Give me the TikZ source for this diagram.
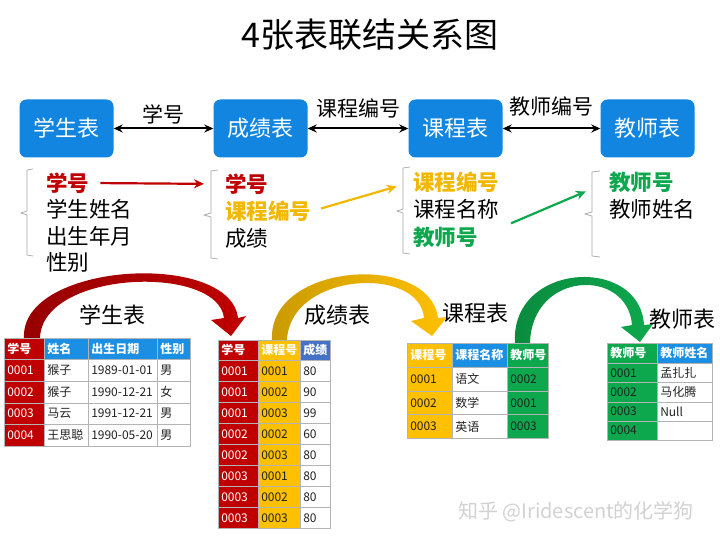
\documentclass[tikz,border=0pt]{standalone}
\usepackage{fontspec}
\setmainfont{Noto Sans CJK SC}
\usepackage{xcolor}
\usepackage{tikz}
\usetikzlibrary{arrows.meta,positioning}

\definecolor{boxBlue}{HTML}{1185E0}
\definecolor{keyRed}{HTML}{C00000}
\definecolor{darkRed}{HTML}{960000}
\definecolor{keyYellow}{HTML}{FFC000}
\definecolor{darkYellow}{HTML}{C99A00}
\definecolor{textYellow}{HTML}{F2B800}
\definecolor{keyGreen}{HTML}{0DA84E}
\definecolor{darkGreen}{HTML}{0A8A3E}
\definecolor{headBlue}{HTML}{1A8FE3}
\definecolor{headBlueDark}{HTML}{4472C4}
\definecolor{gridGray}{HTML}{B4B4B4}
\definecolor{cellText}{HTML}{222222}

\begin{document}
\begin{tikzpicture}[x=1pt, y=-1pt,
  topBox/.style={rectangle, rounded corners=7pt, fill=boxBlue, text=white,
                 minimum width=94pt, minimum height=58pt,
                 font=\fontsize{22}{24}\selectfont},
  linkLabel/.style={font=\fontsize{21}{24}\selectfont, inner sep=1pt},
  listItem/.style={anchor=west, inner sep=1pt, font=\fontsize{21.5}{24}\selectfont},
  keyItem/.style={listItem, font=\fontsize{21.5}{24}\selectfont\bfseries},
  brace/.style={draw=gray!70, line width=0.7pt},
  fieldLink/.style={-{Stealth[length=10pt, width=9pt]}, line width=2.2pt},
  cell/.style n args={3}{draw=gridGray, line width=0.5pt, fill=#1,
                 text width=#2, minimum height=#3, inner xsep=3pt,
                 inner ysep=0pt, align=left, anchor=north west,
                 text=cellText, font=\fontsize{12}{14}\selectfont},
  headCell/.style={font=\fontsize{12}{14}\selectfont\bfseries, text=white},
  tblTitle/.style={font=\fontsize{22}{24}\selectfont},
  >={Stealth[length=9pt, width=8pt]}
]
  \fill[white] (0,0) rectangle (720,540);
  \useasboundingbox (0,0) rectangle (720,540);

  \node[font=\fontsize{34}{38}\selectfont] (title) at (370,35) {4张表联结关系图};

  % top row
  \node[topBox] (stuBox) at (66.5,128.5) {学生表};
  \node[topBox] (scoBox) at (260.5,128.5) {成绩表};
  \node[topBox] (couBox) at (455.5,128.5) {课程表};
  \node[topBox] (teaBox) at (647.5,128.5) {教师表};
  \draw[<->, line width=2pt] (stuBox) -- (scoBox)
    node[midway, above=2pt, linkLabel] (lnkA) {学号};
  \draw[<->, line width=2pt] (scoBox) -- (couBox)
    node[midway, above=8pt, linkLabel] (lnkB) {课程编号};
  \draw[<->, line width=2pt] (couBox) -- (teaBox)
    node[midway, above=10pt, linkLabel] (lnkC) {教师编号};

  % field lists
  \draw[brace] (33,169) -- (27,170) -- (27,211) -- (21,213) -- (27,215) -- (27,255) -- (33,256);
  \draw[brace] (218,170) -- (211,171) -- (211,213) -- (204,215) -- (211,217) -- (211,258) -- (218,259);
  \draw[brace] (410,167) -- (403,168) -- (403,209) -- (397,211) -- (403,213) -- (403,253) -- (410,254);
  \draw[brace] (600,171) -- (592,172) -- (592,212) -- (585,214) -- (592,216) -- (592,256) -- (600,257);

  \node[keyItem, text=keyRed] (stuL1) at (45,183) {学号};
  \node[listItem] (stuL2) at (45,209) {学生姓名};
  \node[listItem] (stuL3) at (45,236) {出生年月};
  \node[listItem] (stuL4) at (45,262) {性别};

  \node[keyItem, text=keyRed] (scoL1) at (224,184) {学号};
  \node[keyItem, text=textYellow] (scoL2) at (224,211) {课程编号};
  \node[listItem] (scoL3) at (224,238) {成绩};

  \node[keyItem, text=textYellow] (couL1) at (412,182) {课程编号};
  \node[listItem] (couL2) at (412,209) {课程名称};
  \node[keyItem, text=keyGreen] (couL3) at (412,237) {教师号};

  \node[keyItem, text=keyGreen] (teaL1) at (608,182) {教师号};
  \node[listItem] (teaL2) at (608,209) {教师姓名};

  \draw[fieldLink, keyRed, shorten <=10pt, shorten >=20pt] (stuL1.east) -- (scoL1.west);
  \draw[fieldLink, textYellow, shorten <=9pt, shorten >=16pt] (scoL2.east) -- (couL1.west);
  \draw[fieldLink, keyGreen, shorten <=35pt, shorten >=24pt] (couL3.east) -- (teaL1.west);

  % curved arrows between tables
  \shade[left color=darkRed, right color=keyRed]
    (24,338) .. controls (20,262) and (230,250) .. (238,318) -- (246,316) -- (231,336) -- (211,320)
    -- (224,318) .. controls (218,264) and (42,270) .. (40,338) -- cycle;
  \shade[left color=darkYellow, right color=keyYellow]
    (272,340) .. controls (268,262) and (430,252) .. (438,318) -- (447,317) -- (432,336) -- (411,321)
    -- (424,318) .. controls (420,265) and (290,272) .. (287,340) -- cycle;
  \shade[left color=darkGreen, right color=keyGreen]
    (515,343) .. controls (510,262) and (640,255) .. (644,325) -- (653,324) -- (640,342) -- (621,327)
    -- (632,325) .. controls (628,268) and (532,270) .. (530,343) -- cycle;

  \node[tblTitle] (stuTitle) at (112,315) {学生表};
  \node[tblTitle] (scoTitle) at (337,315) {成绩表};
  \node[tblTitle] (couTitle) at (475,313) {课程表};
  \node[tblTitle] (teaTitle) at (682,319) {教师表};

  % 学生表
  \node[cell={keyRed}{34pt}{21pt}, headCell] (stuH1) at (4,338) {学号};
  \node[cell={headBlue}{38pt}{21pt}, headCell] (stuH2) at (44,338) {姓名};
  \node[cell={headBlue}{63pt}{21pt}, headCell] (stuH3) at (88,338) {出生日期};
  \node[cell={headBlue}{27pt}{21pt}, headCell] (stuH4) at (157,338) {性别};
  \foreach \i/\id/\nm/\bd/\sx in {1/0001/猴子/1989-01-01/男, 2/0002/猴子/1990-12-21/女,
                                  3/0003/马云/1991-12-21/男, 4/0004/王思聪/1990-05-20/男} {
    \node[cell={keyRed}{34pt}{21.75pt}, text=white] (stuA\i) at (4,{359+(\i-1)*21.75}) {\id};
    \node[cell={white}{38pt}{21.75pt}] (stuB\i) at (44,{359+(\i-1)*21.75}) {\nm};
    \node[cell={white}{63pt}{21.75pt}] (stuC\i) at (88,{359+(\i-1)*21.75}) {\bd};
    \node[cell={white}{27pt}{21.75pt}] (stuD\i) at (157,{359+(\i-1)*21.75}) {\sx};
  }

  % 成绩表
  \node[cell={keyRed}{34pt}{20pt}, headCell] (scoH1) at (218,340) {学号};
  \node[cell={keyYellow}{36pt}{20pt}, headCell] (scoH2) at (258,340) {课程号};
  \node[cell={headBlueDark}{24pt}{20pt}, headCell] (scoH3) at (300,340) {成绩};
  \foreach \i/\sid/\cid/\sc in {1/0001/0001/80, 2/0001/0002/90, 3/0001/0003/99, 4/0002/0002/60,
                                5/0002/0003/80, 6/0003/0001/80, 7/0003/0002/80, 8/0003/0003/80} {
    \node[cell={keyRed}{34pt}{21pt}, text=white] (scoA\i) at (218,{360+(\i-1)*21}) {\sid};
    \node[cell={keyYellow}{36pt}{21pt}] (scoB\i) at (258,{360+(\i-1)*21}) {\cid};
    \node[cell={white}{24pt}{21pt}] (scoC\i) at (300,{360+(\i-1)*21}) {\sc};
  }

  % 课程表
  \node[cell={keyYellow}{39pt}{24pt}, headCell] (couH1) at (407,343) {课程号};
  \node[cell={headBlue}{49pt}{24pt}, headCell] (couH2) at (452,343) {课程名称};
  \node[cell={keyGreen}{35pt}{24pt}, headCell] (couH3) at (507,343) {教师号};
  \foreach \i/\cid/\nm/\tid in {1/0001/语文/0002, 2/0002/数学/0001, 3/0003/英语/0003} {
    \node[cell={keyYellow}{39pt}{23.7pt}] (couA\i) at (407,{367+(\i-1)*23.7}) {\cid};
    \node[cell={white}{49pt}{23.7pt}] (couB\i) at (452,{367+(\i-1)*23.7}) {\nm};
    \node[cell={keyGreen}{35pt}{23.7pt}] (couC\i) at (507,{367+(\i-1)*23.7}) {\tid};
  }

  % 教师表
  \node[cell={keyGreen}{44pt}{20pt}, headCell] (teaH1) at (607,343) {教师号};
  \node[cell={headBlue}{49pt}{20pt}, headCell] (teaH2) at (657,343) {教师姓名};
  \foreach \i/\tid/\nm in {1/0001/孟扎扎, 2/0002/马化腾, 3/0003/Null, 4/0004/{}} {
    \node[cell={keyGreen}{44pt}{19.25pt}] (teaA\i) at (607,{363+(\i-1)*19.25}) {\tid};
    \node[cell={white}{49pt}{19.25pt}] (teaB\i) at (657,{363+(\i-1)*19.25}) {\nm};
  }

  \node[text=gray!35, font=\fontsize{20}{22}\selectfont] (mark) at (576,512) {知乎 @Iridescent的化学狗};
\end{tikzpicture}
\end{document}
